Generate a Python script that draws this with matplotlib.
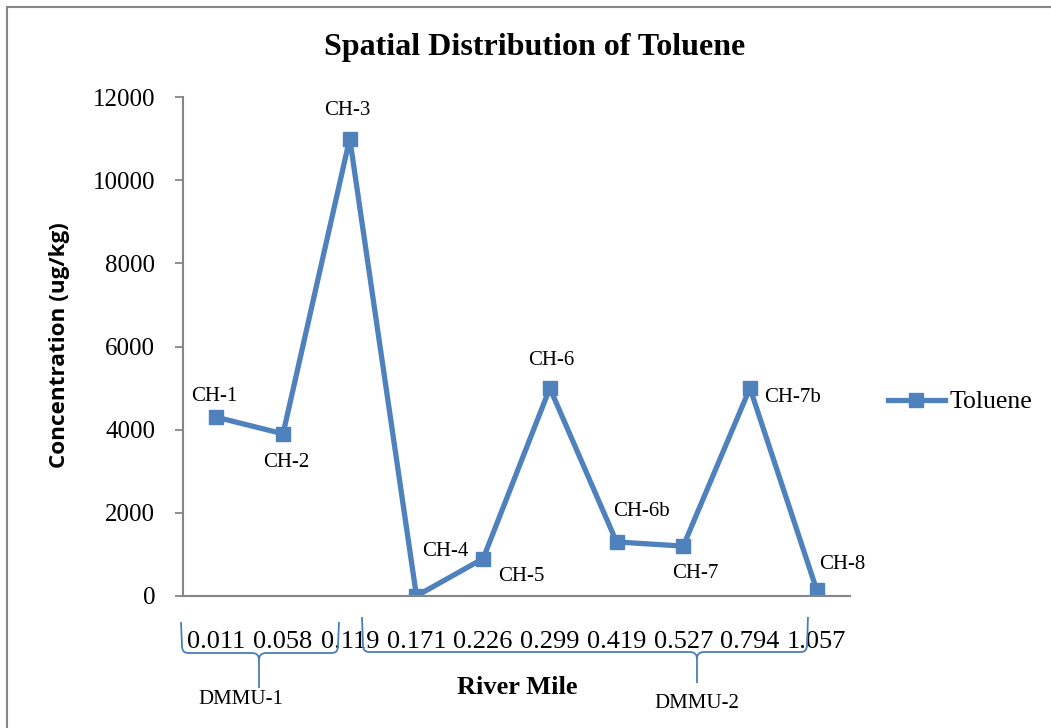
import matplotlib.pyplot as plt
from matplotlib.path import Path
from matplotlib.patches import PathPatch, Rectangle

# data
river_mile = ["0.011", "0.058", "0.119", "0.171", "0.226", "0.299",
              "0.419", "0.527", "0.794", "1.057"]
stations = ["CH-1", "CH-2", "CH-3", "CH-4", "CH-5", "CH-6",
            "CH-6b", "CH-7", "CH-7b", "CH-8"]
toluene = [4300, 3900, 11000, 0, 900, 5000, 1300, 1200, 5000, 150]

# label offsets in pixels (x, y up)
label_offsets = [(-2, 21), (3, -29), (-2, 28), (29, 44), (38, -18),
                 (1, 28), (25, 30), (12, -27), (43, -9), (26, 25)]

W, H = 1051, 728
BLUE = "#4F81BD"
GRAY = "#868686"
SERIF = "Liberation Serif"

fig = plt.figure(figsize=(W / 100, H / 100), dpi=100)
ax = fig.add_axes([183 / W, 1 - 596 / H, (850 - 183) / W, (596 - 97) / H])

x = list(range(len(toluene)))
ax.plot(x, toluene, color=BLUE, lw=3.8, marker="s", markersize=10.5,
        markerfacecolor=BLUE, markeredgecolor=BLUE, label="Toluene")

for i, name in enumerate(stations):
    ax.annotate(name, (x[i], toluene[i]), xytext=label_offsets[i],
                textcoords="offset pixels", ha="center", va="center",
                fontsize=15, family=SERIF)

ax.set_xlim(-0.5, len(x) - 0.5)
ax.set_ylim(0, 12000)
ax.set_yticks(range(0, 12001, 2000))
ax.set_xticks(x)
ax.set_xticklabels(river_mile, fontsize=19, family=SERIF)
for t in ax.get_yticklabels():
    t.set_fontsize(18)
    t.set_family(SERIF)
ax.tick_params(axis="x", length=0, pad=25)
ax.tick_params(axis="y", length=6, width=1.3, color=GRAY, pad=14)

for s in ["top", "right"]:
    ax.spines[s].set_visible(False)
for s in ["left", "bottom"]:
    ax.spines[s].set_color(GRAY)
    ax.spines[s].set_linewidth(1.5)

ax.set_ylabel("Concentration (ug/kg)", fontsize=16.2, fontweight="bold",
              family="Open Sans")
ax.yaxis.set_label_coords((70 - 183) / 667, (596 - 345) / 499)
fig.text(535 / W, 1 - 47 / H, "Spatial Distribution of Toluene",
         ha="center", va="center", fontsize=23, fontweight="bold", family=SERIF)
fig.text(517 / W, 1 - 687 / H, "River Mile", ha="center", va="center",
         fontsize=19, fontweight="bold", family=SERIF)

ax.legend(loc="center left", bbox_to_anchor=(888 / W, 1 - 402 / H),
          bbox_transform=fig.transFigure, frameon=False,
          prop={"family": SERIF, "size": 18.5}, handlelength=2.2,
          handletextpad=0.2, borderpad=0, borderaxespad=0)


# curly braces under the river mile labels (pixel coordinates)
def brace(x0, x1, xm, ytop, ybar, ytip, r=7):
    p = lambda px, py: (px / W, 1 - py / H)
    verts = [p(x0, ytop), p(x0 + 1, ybar - r), p(x0 + 1, ybar), p(x0 + r, ybar),
             p(xm - r, ybar), p(xm, ybar), p(xm, ybar + r), p(xm, ytip),
             p(xm, ybar + r), p(xm, ybar), p(xm + r, ybar),
             p(x1 - r, ybar), p(x1 - 1, ybar), p(x1 - 1, ybar - r), p(x1, ytop)]
    codes = [Path.MOVETO, Path.LINETO, Path.CURVE3, Path.CURVE3,
             Path.LINETO, Path.CURVE3, Path.CURVE3, Path.LINETO,
             Path.MOVETO, Path.CURVE3, Path.CURVE3,
             Path.LINETO, Path.CURVE3, Path.CURVE3, Path.LINETO]
    fig.patches.append(PathPatch(Path(verts, codes), fill=False,
                                 edgecolor="#4A7EBB", lw=1.3,
                                 transform=fig.transFigure))


brace(181, 339, 259, 622, 653, 688)
brace(362, 808, 697, 617, 652, 683)
fig.text(241 / W, 1 - 700 / H, "DMMU-1", ha="center", va="center",
         fontsize=15, family=SERIF)
fig.text(697 / W, 1 - 704 / H, "DMMU-2", ha="center", va="center",
         fontsize=15, family=SERIF)

# outer frame of the chart area
fig.patches.append(Rectangle((7 / W, -0.1), 1.2, 1 - 7 / H + 0.1,
                             fill=False, edgecolor=GRAY, lw=1.5,
                             transform=fig.transFigure))

fig.savefig("out.png", dpi=100)
